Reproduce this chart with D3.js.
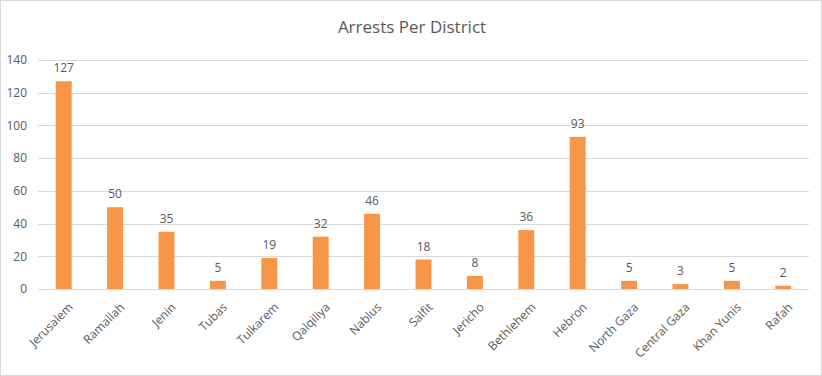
<!DOCTYPE html>
<html>
<head>
<meta charset="utf-8">
<script src="https://cdn.jsdelivr.net/npm/d3@7"></script>
<style>
  body { margin: 0; background: #fff; }
  text { font-family: "Open Sans", sans-serif; fill: #595959; }
</style>
</head>
<body>
<div id="chart"></div>
<script>
const districts = ["Jerusalem", "Ramallah", "Jenin", "Tubas", "Tulkarem", "Qalqiliya", "Nablus",
  "Salfit", "Jericho", "Bethlehem", "Hebron", "North Gaza", "Central Gaza", "Khan Yunis", "Rafah"];
const arrests = [127, 50, 35, 5, 19, 32, 46, 18, 8, 36, 93, 5, 3, 5, 2];
const yTicks = [0, 20, 40, 60, 80, 100, 120, 140];

const width = 822, height = 376;
const margin = {top: 60, right: 13, bottom: 87, left: 38};
const w = width - margin.left - margin.right;
const h = height - margin.top - margin.bottom;

const svg = d3.select("#chart").append("svg")
    .attr("width", width)
    .attr("height", height);

// outer frame
svg.append("rect")
    .attr("x", 0.5).attr("y", 0.5)
    .attr("width", width - 1).attr("height", height - 1)
    .attr("fill", "#fff")
    .attr("stroke", "#d9d9d9");

svg.append("text")
    .attr("x", width / 2 + 1)
    .attr("y", 33)
    .attr("text-anchor", "middle")
    .style("font-size", "17px")
    .text("Arrests Per District");

const chart = svg.append("g")
    .attr("transform", `translate(${margin.left},${margin.top})`);

const x = d3.scaleBand()
    .domain(districts)
    .range([0, w])
    .paddingInner(0.69)
    .paddingOuter(0.345);

const y = d3.scaleLinear()
    .domain([0, 140])
    .range([h, 0]);

// gridlines
chart.selectAll(".grid")
    .data(yTicks)
  .join("line")
    .attr("class", "grid")
    .attr("x1", 0).attr("x2", w)
    .attr("y1", d => Math.round(y(d)) + 0.5)
    .attr("y2", d => Math.round(y(d)) + 0.5)
    .attr("stroke", "#d9d9d9")
    .attr("stroke-width", 1);

// y axis labels
const yAxis = d3.axisLeft(y).tickValues(yTicks).tickSize(0).tickPadding(11);
const yAxisG = chart.append("g").call(yAxis);
yAxisG.select(".domain").remove();
yAxisG.selectAll("text")
    .style("font-size", "12px")
    .style("font-family", "'Open Sans', sans-serif")
    .attr("fill", "#595959");

// bars
chart.selectAll(".bar")
    .data(arrests)
  .join("rect")
    .attr("class", "bar")
    .attr("x", (d, i) => x(districts[i]))
    .attr("width", x.bandwidth())
    .attr("y", d => y(d))
    .attr("height", d => y(0) - y(d))
    .attr("fill", "#f79646");

// value labels
chart.selectAll(".val")
    .data(arrests)
  .join("text")
    .attr("class", "val")
    .attr("x", (d, i) => x(districts[i]) + x.bandwidth() / 2)
    .attr("y", d => y(d) - 9)
    .attr("text-anchor", "middle")
    .style("font-size", "12px")
    .text(d => d);

// x axis labels
const xAxis = d3.axisBottom(x).tickSize(0).tickPadding(0);
const xAxisG = chart.append("g")
    .attr("transform", `translate(0,${h})`)
    .call(xAxis);
xAxisG.select(".domain").remove();
xAxisG.selectAll("text")
    .attr("fill", "#595959")
    .style("font-size", "12px")
    .style("font-family", "'Open Sans', sans-serif")
    .attr("text-anchor", "end")
    .attr("y", 0)
    .attr("dy", 0)
    .attr("transform", "translate(10,19) rotate(-45)");
</script>
</body>
</html>
